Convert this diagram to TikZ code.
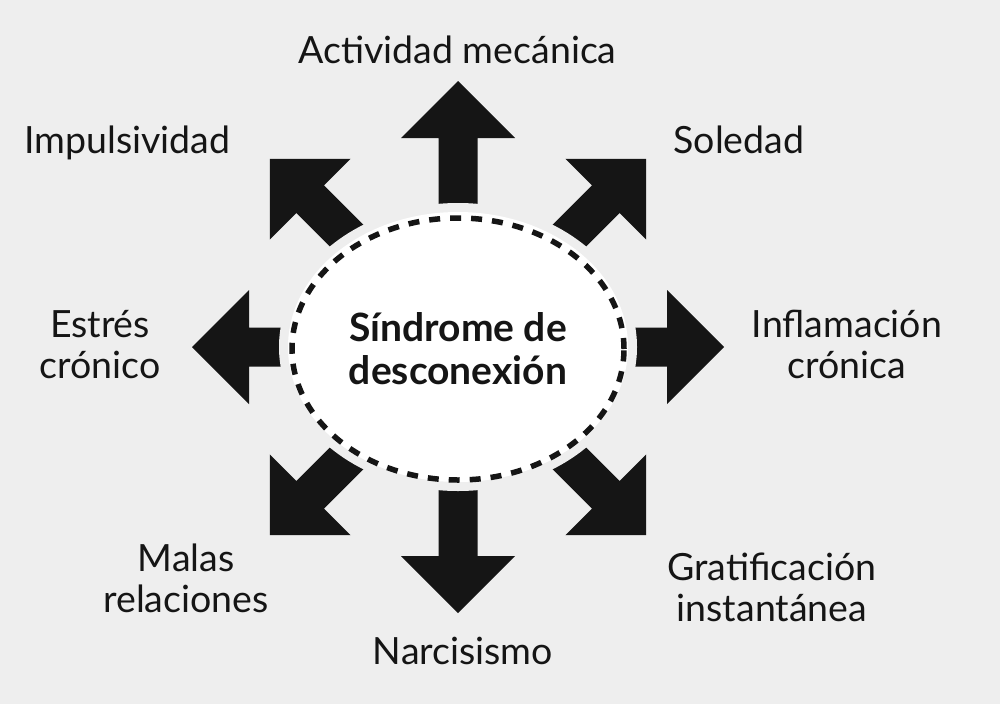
\documentclass[tikz,border=0pt]{standalone}
\usepackage{fontspec}
\setmainfont{Lato}
\usetikzlibrary{shapes.geometric}
\definecolor{bg}{HTML}{EEEEEE}
\definecolor{ink}{HTML}{151515}
\begin{document}
\begin{tikzpicture}[x=1pt,y=-1pt,
  blockarrow/.style={fill=ink},
  lbl/.style={font=\fontsize{37.5}{41}\selectfont, text=ink, align=center, inner sep=0pt, anchor=base},
  hub/.style={ellipse, draw=ink, line width=5.5pt, dash pattern=on 11pt off 10pt,
    minimum width=332pt, minimum height=262pt, inner sep=0pt, text=ink,
    font=\bfseries\fontsize{39}{43}\selectfont, align=center}]
\fill[bg] (0,0) rectangle (1000,704);
\useasboundingbox (0,0) rectangle (1000,704);
\coordinate (c) at (458,347);
% block arrows
\foreach \ang in {0,45,...,315} {
  \fill[blockarrow, shift={(c)}, rotate=\ang]
    (0,-19.5) -- (209,-19.5) -- (209,-57) -- (266,0) -- (209,57) -- (209,19.5) -- (0,19.5) -- cycle;
}
% halo and hub
\fill[bg] (c) ellipse [x radius=179pt, y radius=144pt];
\fill[white] (c) ellipse [x radius=170pt, y radius=135pt];
\node[hub] (hub) at (458,349) {Síndrome de\\desconexión};
% labels (anchor = baseline of the last line)
\node[lbl] (act) at (457.5,63) {Actividad mecánica};
\node[lbl] (imp) at (127.5,153) {Impulsividad};
\node[lbl] (sol) at (739,153) {Soledad};
\node[lbl] (est) at (100,378) {Estrés\\crónico};
\node[lbl] (inf) at (847,378) {Inflamación\\crónica};
\node[lbl] (mal) at (186,612) {Malas\\relaciones};
\node[lbl] (gra) at (772,621) {Gratificación\\instantánea};
\node[lbl] (nar) at (463,664) {Narcisismo};
\end{tikzpicture}
\end{document}
